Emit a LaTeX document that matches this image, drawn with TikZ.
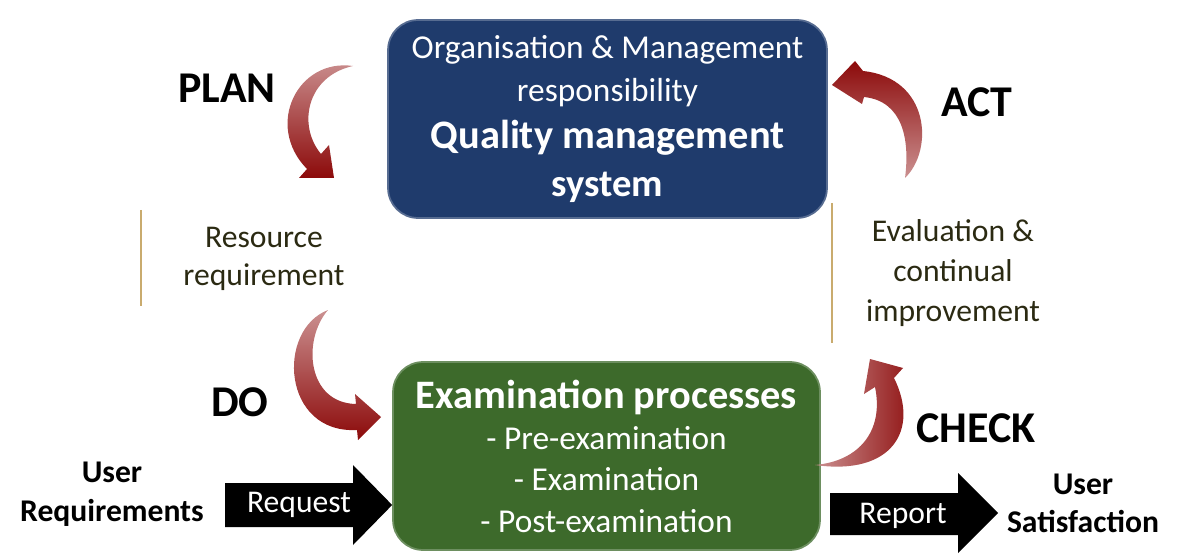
\documentclass[tikz,border=0pt]{standalone}
\usepackage{fontspec}
\setmainfont{Carlito}
\usepackage{tikz}
\usetikzlibrary{positioning}

\definecolor{boxBlue}{HTML}{1F3B6C}
\definecolor{boxGreen}{HTML}{3D6A2B}
\definecolor{cycleRed}{HTML}{8C0A0A}
\definecolor{lineTan}{HTML}{C9AB6E}
\definecolor{noteInk}{HTML}{2B2A12}

\begin{document}
\begin{tikzpicture}[x=0.02cm, y=-0.02cm,
    stage/.style={rounded corners=0.6cm, draw=#1!75!white, line width=1pt,
        fill=#1, text=white, align=center, inner sep=0pt},
    phase/.style={font=\bfseries\fontsize{25}{30}\selectfont},
    note/.style={text=noteInk, align=center},
    userlabel/.style={align=center, font=\bfseries\fontsize{18}{22.5}\selectfont},
    blockarrow/.style={fill=black},
    arrowtext/.style={text=white, font=\fontsize{18}{22}\selectfont}]
    \useasboundingbox (0,0) rectangle (1180,557);

    % the two boxes
    \def\bigLine{\bfseries\fontsize{23}{27}\selectfont}
    \node[stage=boxBlue, minimum width=8.78cm, minimum height=3.96cm,
        font=\fontsize{19}{24}\selectfont] (qms) at (607.5,119)
        {Organisation \& Management\\
         responsibility\\[3pt]
         \bigLine Quality management\\[3pt]
         \bfseries\fontsize{22}{26}\selectfont system};
    \node[stage=boxGreen, minimum width=8.54cm, minimum height=3.76cm,
        font=\fontsize{19}{23.5}\selectfont] (exam) at (606.5,456)
        {\bigLine Examination processes\\[0pt]
         - Pre-examination\\
         - Examination\\
         - Post-examination};

    % PDCA labels
    \node[phase] (plan) at (227,88) {PLAN};
    \node[phase] (act) at (977,102) {ACT};
    \node[phase] (do) at (240,402) {DO};
    \node[phase] (check) at (976,428) {CHECK};

    % side notes
    \node[note, font=\fontsize{18}{21.6}\selectfont] (resource) at (264,259) {Resource\\requirement};
    \node[note, font=\fontsize{18}{22.8}\selectfont] (evaluation) at (953,273) {Evaluation \&\\continual\\improvement};
    \draw[lineTan, line width=1pt] (141,210) -- (141,306);
    \draw[lineTan, line width=1pt] (832,203) -- (832,343);

    % curved red arrows
    \shade[top color=cycleRed!45, middle color=cycleRed!95!black, bottom color=cycleRed]
        (353,66) .. controls (298,58) and (264,125) .. (307,169) -- (299,178) -- (334,178)
        -- (329,145) -- (321,154) .. controls (297,125) and (307,76) .. (353,66) -- cycle;
    \shade[top color=cycleRed!45, middle color=cycleRed!95!black, bottom color=cycleRed]
        (328,310) .. controls (276,330) and (282,434) .. (357,430) -- (358,440) -- (381,417)
        -- (355,394) -- (356,404) .. controls (307,403) and (302,340) .. (328,310) -- cycle;
    \shade[top color=cycleRed, middle color=cycleRed!95!black, bottom color=cycleRed!45]
        (905,178) .. controls (934,150) and (930,78) .. (863,71) -- (855,61) -- (832,85)
        -- (862,104) -- (864,97) .. controls (903,101) and (910,140) .. (905,178) -- cycle;
    \shade[left color=cycleRed!45, middle color=cycleRed!95!black, right color=cycleRed]
        (815,465) .. controls (892,476) and (920,430) .. (894,378) -- (903,368) -- (870,359)
        -- (864,394) -- (875,387) .. controls (884,430) and (860,461) .. (815,465) -- cycle;

    % input and output
    \node[userlabel] (userReq) at (112,494) {User\\Requirements};
    \node[userlabel, font=\bfseries\fontsize{18}{21.6}\selectfont] (userSat) at (1083,503) {User\\Satisfaction};
    \fill[blockarrow] (225,483) -- (353,483) -- (353,465) -- (exam.west |- 0,505)
        -- (353,545) -- (353,527) -- (225,527) -- cycle;
    \node[arrowtext] (request) at (299,505) {Request};
    \fill[blockarrow] (830,493) -- (958,493) -- (958,473) -- (998,513) -- (958,553)
        -- (958,535) -- (830,535) -- cycle;
    \node[arrowtext] (report) at (903,516) {Report};
\end{tikzpicture}
\end{document}
